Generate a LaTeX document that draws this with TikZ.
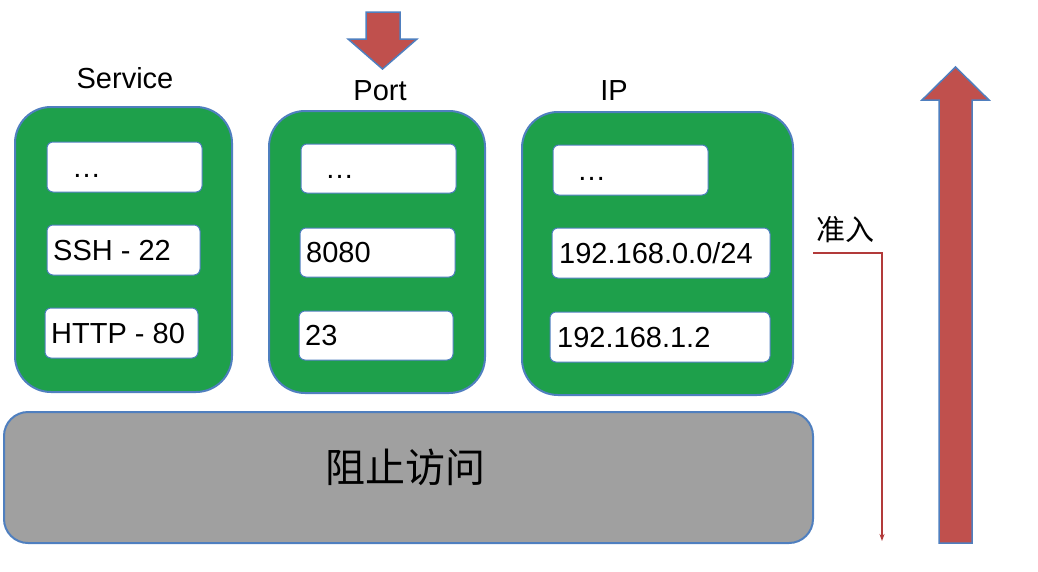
\documentclass[tikz,border=0pt]{standalone}
\usepackage{fontspec}
\setmainfont{Liberation Sans}
\newfontfamily\cjk{Noto Sans CJK SC}
\usetikzlibrary{arrows.meta}
\definecolor{boxgreen}{HTML}{1EA04B}
\definecolor{olblue}{HTML}{4F7FBF}
\definecolor{arrred}{HTML}{C0504D}
\definecolor{boxgray}{HTML}{A0A0A0}
\definecolor{linered}{HTML}{B23A3A}
\begin{document}
\begin{tikzpicture}[x=1pt,y=-1pt,
  group/.style={draw=olblue, line width=2pt, fill=boxgreen, rounded corners=36pt},
  cell/.style={draw=olblue, line width=1pt, fill=white, rounded corners=6pt},
  celltext/.style={font=\fontsize{29}{30}\selectfont, inner sep=0pt, anchor=base west},
  title/.style={font=\fontsize{29}{30}\selectfont, inner sep=0pt, anchor=base},
  bigarrow/.style={draw=olblue, line width=1.5pt, fill=arrred, line join=miter}
]
\useasboundingbox (0,0) rectangle (1038,571);

% group boxes
\draw[group] (15,107) rectangle (232,392);
\draw[group] (269,111) rectangle (485,393);
\draw[group] (522,112) rectangle (793,395);

% titles
\node[title] (tService) at (125,88) {Service};
\node[title] (tPort) at (380,100) {Port};
\node[title] (tIP) at (614,100) {IP};

% Service cells
\draw[cell] (47,142) rectangle (202,192);
\draw[cell] (47,225) rectangle (200,275);
\draw[cell] (45,308) rectangle (198,358);
\node[celltext] (s1) at (72,177) {…};
\node[celltext] (s2) at (53,260) {SSH - 22};
\node[celltext] (s3) at (51,343) {HTTP - 80};

% Port cells
\draw[cell] (301,144) rectangle (456,193);
\draw[cell] (300,228) rectangle (455,277);
\draw[cell] (299,311) rectangle (453,360);
\node[celltext] (p1) at (325,178.5) {…};
\node[celltext] (p2) at (306,262.5) {8080};
\node[celltext] (p3) at (305,345.5) {23};

% IP cells
\draw[cell] (553,145) rectangle (708,195);
\draw[cell] (552,228) rectangle (770,278);
\draw[cell] (550,312) rectangle (770,362);
\node[celltext] (i1) at (577,180) {…};
\node[celltext] (i2) at (559,263) {192.168.0.0/24};
\node[celltext] (i3) at (557,347) {192.168.1.2};

% gray block
\draw[draw=olblue, line width=2pt, fill=boxgray, rounded corners=24pt] (4,412) rectangle (813,543);
\node[font=\cjk\fontsize{40}{42}\selectfont, inner sep=0pt] (block) at (405,467) {阻止访问};

% down arrow
\draw[bigarrow] (366,12) -- (400,12) -- (400,39) -- (417,39) -- (382.5,69) -- (348,39) -- (366,39) -- cycle;

% up arrow
\draw[bigarrow] (939,543) -- (972,543) -- (972,100) -- (989,100) -- (955.5,67) -- (922,100) -- (939,100) -- cycle;

% allow label and connector
\node[font=\cjk\fontsize{29}{30}\selectfont, inner sep=0pt] (allow) at (845,230) {准入};
\coordinate (c1) at (813,253);
\coordinate (c2) at (882,541);
\draw[linered, line width=1.5pt, -{Stealth[length=7pt,width=5pt]}] (c1) -| (c2);
\end{tikzpicture}
\end{document}
